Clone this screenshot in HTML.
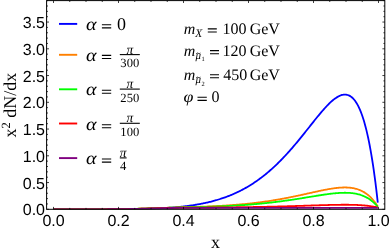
<!DOCTYPE html>
<html><head><meta charset="utf-8"><style>
html,body{margin:0;padding:0;background:#fff;}
svg{display:block;will-change:transform;text-rendering:geometricPrecision}
.tk{font-family:"Liberation Sans",sans-serif;font-size:16px;fill:#000}
.ax{font-family:"Liberation Serif",serif;font-size:18px;fill:#000}
.lg{font-family:"Liberation Serif",serif;font-size:16px;fill:#000}
.fr{font-family:"Liberation Serif",serif;font-size:12.6px;fill:#000}
.pi{font-family:"Liberation Serif",serif;font-size:13.5px;fill:#000}
.sb{font-family:"Liberation Serif",serif;font-size:10.5px;fill:#000}
.sb2{font-family:"Liberation Serif",serif;fill:#000}
</style></head><body>
<svg width="390" height="252" viewBox="0 0 390 252">
<rect width="390" height="252" fill="#fff"/>
<clipPath id="cp"><rect x="46.6" y="0.6" width="338.2" height="208.70000000000002"/></clipPath><g clip-path="url(#cp)">
<path d="M53.66,209.30 L54.47,209.30 L55.29,209.30 L56.10,209.30 L56.91,209.30 L57.72,209.30 L58.54,209.30 L59.35,209.30 L60.16,209.30 L60.97,209.30 L61.79,209.30 L62.60,209.30 L63.41,209.30 L64.22,209.30 L65.04,209.30 L65.85,209.30 L66.66,209.30 L67.47,209.30 L68.28,209.30 L69.10,209.30 L69.91,209.30 L70.72,209.30 L71.53,209.30 L72.35,209.30 L73.16,209.30 L73.97,209.30 L74.78,209.30 L75.60,209.30 L76.41,209.30 L77.22,209.30 L78.03,209.30 L78.84,209.30 L79.66,209.30 L80.47,209.30 L81.28,209.30 L82.09,209.30 L82.91,209.30 L83.72,209.30 L84.53,209.30 L85.34,209.30 L86.16,209.30 L86.97,209.30 L87.78,209.30 L88.59,209.30 L89.41,209.30 L90.22,209.30 L91.03,209.30 L91.84,209.29 L92.65,209.29 L93.47,209.29 L94.28,209.29 L95.09,209.29 L95.90,209.29 L96.72,209.29 L97.53,209.29 L98.34,209.29 L99.15,209.29 L99.97,209.29 L100.78,209.28 L101.59,209.28 L102.40,209.28 L103.22,209.28 L104.03,209.28 L104.84,209.28 L105.65,209.27 L106.46,209.27 L107.28,209.27 L108.09,209.27 L108.90,209.26 L109.71,209.26 L110.53,209.26 L111.34,209.26 L112.15,209.25 L112.96,209.25 L113.78,209.25 L114.59,209.24 L115.40,209.24 L116.21,209.23 L117.02,209.23 L117.84,209.22 L118.65,209.22 L119.46,209.21 L120.27,209.21 L121.09,209.20 L121.90,209.20 L122.71,209.19 L123.52,209.18 L124.34,209.18 L125.15,209.17 L125.96,209.16 L126.77,209.15 L127.59,209.14 L128.40,209.14 L129.21,209.13 L130.02,209.12 L130.83,209.11 L131.65,209.10 L132.46,209.08 L133.27,209.07 L134.08,209.06 L134.90,209.05 L135.71,209.04 L136.52,209.02 L137.33,209.01 L138.15,208.99 L138.96,208.98 L139.77,208.96 L140.58,208.94 L141.39,208.93 L142.21,208.91 L143.02,208.89 L143.83,208.87 L144.64,208.85 L145.46,208.83 L146.27,208.81 L147.08,208.78 L147.89,208.76 L148.71,208.74 L149.52,208.71 L150.33,208.68 L151.14,208.66 L151.96,208.63 L152.77,208.60 L153.58,208.57 L154.39,208.54 L155.20,208.51 L156.02,208.47 L156.83,208.44 L157.64,208.40 L158.45,208.37 L159.27,208.33 L160.08,208.29 L160.89,208.25 L161.70,208.21 L162.52,208.16 L163.33,208.12 L164.14,208.07 L164.95,208.02 L165.77,207.97 L166.58,207.92 L167.39,207.87 L168.20,207.82 L169.01,207.76 L169.83,207.71 L170.64,207.65 L171.45,207.59 L172.26,207.53 L173.08,207.46 L173.89,207.40 L174.70,207.33 L175.51,207.26 L176.33,207.19 L177.14,207.11 L177.95,207.04 L178.76,206.96 L179.57,206.88 L180.39,206.80 L181.20,206.71 L182.01,206.63 L182.82,206.54 L183.64,206.45 L184.45,206.35 L185.26,206.26 L186.07,206.16 L186.89,206.06 L187.70,205.95 L188.51,205.85 L189.32,205.74 L190.14,205.63 L190.95,205.51 L191.76,205.39 L192.57,205.27 L193.38,205.15 L194.20,205.02 L195.01,204.89 L195.82,204.76 L196.63,204.62 L197.45,204.48 L198.26,204.34 L199.07,204.19 L199.88,204.04 L200.70,203.89 L201.51,203.73 L202.32,203.57 L203.13,203.41 L203.94,203.24 L204.76,203.07 L205.57,202.89 L206.38,202.71 L207.19,202.53 L208.01,202.34 L208.82,202.15 L209.63,201.96 L210.44,201.76 L211.26,201.55 L212.07,201.34 L212.88,201.13 L213.69,200.91 L214.51,200.69 L215.32,200.46 L216.13,200.23 L216.94,199.99 L217.75,199.75 L218.57,199.50 L219.38,199.25 L220.19,198.99 L221.00,198.73 L221.82,198.46 L222.63,198.19 L223.44,197.91 L224.25,197.63 L225.07,197.34 L225.88,197.05 L226.69,196.75 L227.50,196.44 L228.31,196.13 L229.13,195.81 L229.94,195.49 L230.75,195.16 L231.56,194.82 L232.38,194.48 L233.19,194.13 L234.00,193.77 L234.81,193.41 L235.63,193.04 L236.44,192.67 L237.25,192.29 L238.06,191.90 L238.88,191.50 L239.69,191.10 L240.50,190.69 L241.31,190.28 L242.12,189.85 L242.94,189.42 L243.75,188.99 L244.56,188.54 L245.37,188.09 L246.19,187.63 L247.00,187.16 L247.81,186.69 L248.62,186.20 L249.44,185.71 L250.25,185.21 L251.06,184.71 L251.87,184.19 L252.69,183.67 L253.50,183.14 L254.31,182.60 L255.12,182.06 L255.93,181.50 L256.75,180.94 L257.56,180.37 L258.37,179.79 L259.18,179.20 L260.00,178.60 L260.81,178.00 L261.62,177.38 L262.43,176.76 L263.25,176.13 L264.06,175.49 L264.87,174.84 L265.68,174.18 L266.49,173.52 L267.31,172.84 L268.12,172.16 L268.93,171.47 L269.74,170.76 L270.56,170.05 L271.37,169.33 L272.18,168.61 L272.99,167.87 L273.81,167.12 L274.62,166.37 L275.43,165.60 L276.24,164.83 L277.06,164.05 L277.87,163.26 L278.68,162.46 L279.49,161.65 L280.30,160.83 L281.12,160.01 L281.93,159.17 L282.74,158.33 L283.55,157.48 L284.37,156.62 L285.18,155.75 L285.99,154.88 L286.80,153.99 L287.62,153.10 L288.43,152.20 L289.24,151.29 L290.05,150.38 L290.86,149.46 L291.68,148.53 L292.49,147.59 L293.30,146.65 L294.11,145.69 L294.93,144.74 L295.74,143.77 L296.55,142.80 L297.36,141.83 L298.18,140.85 L298.99,139.86 L299.80,138.87 L300.61,137.87 L301.43,136.87 L302.24,135.86 L303.05,134.86 L303.86,133.84 L304.67,132.83 L305.49,131.81 L306.30,130.79 L307.11,129.77 L307.92,128.74 L308.74,127.72 L309.55,126.69 L310.36,125.67 L311.17,124.64 L311.99,123.62 L312.80,122.60 L313.61,121.58 L314.42,120.56 L315.24,119.55 L316.05,118.54 L316.86,117.54 L317.67,116.54 L318.48,115.56 L319.30,114.57 L320.11,113.60 L320.92,112.64 L321.73,111.68 L322.55,110.74 L323.36,109.81 L324.17,108.89 L324.98,107.99 L325.80,107.11 L326.61,106.24 L327.42,105.39 L328.23,104.56 L329.04,103.74 L329.86,102.96 L330.67,102.19 L331.48,101.45 L332.29,100.74 L333.11,100.06 L333.92,99.40 L334.73,98.78 L335.54,98.20 L336.36,97.65 L337.17,97.13 L337.98,96.66 L338.79,96.23 L339.61,95.84 L340.42,95.50 L341.23,95.21 L342.04,94.97 L342.85,94.79 L343.67,94.66 L344.48,94.60 L345.29,94.60 L346.10,94.66 L346.92,94.79 L347.73,95.00 L348.54,95.28 L349.35,95.64 L350.17,96.09 L350.98,96.63 L351.79,97.25 L352.60,97.98 L353.41,98.80 L354.23,99.73 L355.04,100.77 L355.85,101.92 L356.66,103.20 L357.48,104.60 L358.29,106.13 L359.10,107.81 L359.91,109.62 L360.73,111.59 L361.54,113.71 L362.35,115.99 L363.16,118.45 L363.98,121.09 L364.79,123.91 L365.60,126.93 L366.41,130.15 L367.22,133.59 L368.04,137.25 L368.85,141.14 L369.66,145.27 L370.47,149.66 L371.29,154.31 L372.10,159.24 L372.91,164.46 L373.72,169.98 L374.54,175.81 L375.35,181.98 L376.16,188.48 L376.97,195.35 L377.79,202.60" fill="none" stroke="#0000ff" stroke-width="1.8" stroke-linejoin="round"/>
<path d="M53.66,209.30 L54.47,209.30 L55.29,209.30 L56.10,209.30 L56.91,209.30 L57.72,209.30 L58.54,209.30 L59.35,209.30 L60.16,209.30 L60.97,209.30 L61.79,209.30 L62.60,209.30 L63.41,209.30 L64.22,209.30 L65.04,209.30 L65.85,209.30 L66.66,209.30 L67.47,209.30 L68.28,209.30 L69.10,209.30 L69.91,209.30 L70.72,209.30 L71.53,209.30 L72.35,209.30 L73.16,209.30 L73.97,209.30 L74.78,209.30 L75.60,209.30 L76.41,209.30 L77.22,209.30 L78.03,209.30 L78.84,209.30 L79.66,209.30 L80.47,209.30 L81.28,209.30 L82.09,209.30 L82.91,209.30 L83.72,209.30 L84.53,209.30 L85.34,209.30 L86.16,209.30 L86.97,209.30 L87.78,209.30 L88.59,209.30 L89.41,209.30 L90.22,209.30 L91.03,209.30 L91.84,209.30 L92.65,209.30 L93.47,209.30 L94.28,209.30 L95.09,209.30 L95.90,209.30 L96.72,209.30 L97.53,209.30 L98.34,209.30 L99.15,209.30 L99.97,209.29 L100.78,209.29 L101.59,209.29 L102.40,209.29 L103.22,209.29 L104.03,209.28 L104.84,209.28 L105.65,209.28 L106.46,209.27 L107.28,209.27 L108.09,209.27 L108.90,209.26 L109.71,209.26 L110.53,209.25 L111.34,209.24 L112.15,209.24 L112.96,209.23 L113.78,209.22 L114.59,209.21 L115.40,209.21 L116.21,209.20 L117.02,209.19 L117.84,209.18 L118.65,209.17 L119.46,209.16 L120.27,209.14 L121.09,209.13 L121.90,209.12 L122.71,209.11 L123.52,209.09 L124.34,209.08 L125.15,209.06 L125.96,209.05 L126.77,209.03 L127.59,209.02 L128.40,209.00 L129.21,208.98 L130.02,208.96 L130.83,208.94 L131.65,208.93 L132.46,208.91 L133.27,208.89 L134.08,208.87 L134.90,208.85 L135.71,208.82 L136.52,208.80 L137.33,208.78 L138.15,208.76 L138.96,208.73 L139.77,208.71 L140.58,208.69 L141.39,208.66 L142.21,208.64 L143.02,208.61 L143.83,208.59 L144.64,208.56 L145.46,208.54 L146.27,208.51 L147.08,208.48 L147.89,208.46 L148.71,208.43 L149.52,208.40 L150.33,208.37 L151.14,208.35 L151.96,208.32 L152.77,208.29 L153.58,208.26 L154.39,208.23 L155.20,208.20 L156.02,208.17 L156.83,208.14 L157.64,208.11 L158.45,208.09 L159.27,208.06 L160.08,208.03 L160.89,208.00 L161.70,207.97 L162.52,207.94 L163.33,207.91 L164.14,207.88 L164.95,207.85 L165.77,207.82 L166.58,207.79 L167.39,207.76 L168.20,207.73 L169.01,207.70 L169.83,207.67 L170.64,207.64 L171.45,207.62 L172.26,207.59 L173.08,207.56 L173.89,207.53 L174.70,207.50 L175.51,207.48 L176.33,207.45 L177.14,207.42 L177.95,207.40 L178.76,207.37 L179.57,207.34 L180.39,207.32 L181.20,207.29 L182.01,207.27 L182.82,207.25 L183.64,207.22 L184.45,207.20 L185.26,207.18 L186.07,207.15 L186.89,207.13 L187.70,207.11 L188.51,207.09 L189.32,207.07 L190.14,207.05 L190.95,207.03 L191.76,207.01 L192.57,206.98 L193.38,206.96 L194.20,206.94 L195.01,206.92 L195.82,206.89 L196.63,206.87 L197.45,206.85 L198.26,206.82 L199.07,206.79 L199.88,206.77 L200.70,206.74 L201.51,206.71 L202.32,206.69 L203.13,206.66 L203.94,206.63 L204.76,206.60 L205.57,206.57 L206.38,206.53 L207.19,206.50 L208.01,206.47 L208.82,206.43 L209.63,206.40 L210.44,206.36 L211.26,206.33 L212.07,206.29 L212.88,206.25 L213.69,206.22 L214.51,206.18 L215.32,206.14 L216.13,206.10 L216.94,206.05 L217.75,206.01 L218.57,205.97 L219.38,205.92 L220.19,205.88 L221.00,205.83 L221.82,205.78 L222.63,205.74 L223.44,205.69 L224.25,205.64 L225.07,205.59 L225.88,205.53 L226.69,205.48 L227.50,205.43 L228.31,205.37 L229.13,205.32 L229.94,205.26 L230.75,205.20 L231.56,205.14 L232.38,205.08 L233.19,205.02 L234.00,204.96 L234.81,204.89 L235.63,204.83 L236.44,204.76 L237.25,204.70 L238.06,204.63 L238.88,204.56 L239.69,204.49 L240.50,204.41 L241.31,204.34 L242.12,204.27 L242.94,204.19 L243.75,204.11 L244.56,204.03 L245.37,203.96 L246.19,203.87 L247.00,203.79 L247.81,203.71 L248.62,203.62 L249.44,203.54 L250.25,203.45 L251.06,203.36 L251.87,203.27 L252.69,203.18 L253.50,203.08 L254.31,202.99 L255.12,202.89 L255.93,202.79 L256.75,202.69 L257.56,202.59 L258.37,202.49 L259.18,202.39 L260.00,202.28 L260.81,202.18 L261.62,202.07 L262.43,201.96 L263.25,201.85 L264.06,201.73 L264.87,201.62 L265.68,201.50 L266.49,201.39 L267.31,201.27 L268.12,201.15 L268.93,201.02 L269.74,200.90 L270.56,200.78 L271.37,200.65 L272.18,200.52 L272.99,200.39 L273.81,200.26 L274.62,200.13 L275.43,199.99 L276.24,199.85 L277.06,199.72 L277.87,199.58 L278.68,199.44 L279.49,199.29 L280.30,199.15 L281.12,199.00 L281.93,198.86 L282.74,198.71 L283.55,198.56 L284.37,198.41 L285.18,198.25 L285.99,198.10 L286.80,197.94 L287.62,197.79 L288.43,197.63 L289.24,197.47 L290.05,197.31 L290.86,197.14 L291.68,196.98 L292.49,196.82 L293.30,196.65 L294.11,196.48 L294.93,196.31 L295.74,196.14 L296.55,195.97 L297.36,195.80 L298.18,195.63 L298.99,195.45 L299.80,195.28 L300.61,195.10 L301.43,194.93 L302.24,194.75 L303.05,194.57 L303.86,194.39 L304.67,194.21 L305.49,194.03 L306.30,193.85 L307.11,193.67 L307.92,193.49 L308.74,193.31 L309.55,193.13 L310.36,192.95 L311.17,192.77 L311.99,192.59 L312.80,192.41 L313.61,192.23 L314.42,192.05 L315.24,191.87 L316.05,191.69 L316.86,191.52 L317.67,191.34 L318.48,191.17 L319.30,190.99 L320.11,190.82 L320.92,190.65 L321.73,190.48 L322.55,190.32 L323.36,190.15 L324.17,189.99 L324.98,189.83 L325.80,189.68 L326.61,189.52 L327.42,189.37 L328.23,189.23 L329.04,189.08 L329.86,188.95 L330.67,188.81 L331.48,188.68 L332.29,188.56 L333.11,188.43 L333.92,188.32 L334.73,188.21 L335.54,188.11 L336.36,188.01 L337.17,187.92 L337.98,187.84 L338.79,187.76 L339.61,187.69 L340.42,187.63 L341.23,187.58 L342.04,187.54 L342.85,187.51 L343.67,187.48 L344.48,187.47 L345.29,187.47 L346.10,187.48 L346.92,187.51 L347.73,187.54 L348.54,187.59 L349.35,187.66 L350.17,187.74 L350.98,187.83 L351.79,187.94 L352.60,188.07 L353.41,188.21 L354.23,188.38 L355.04,188.56 L355.85,188.76 L356.66,188.99 L357.48,189.24 L358.29,189.51 L359.10,189.80 L359.91,190.12 L360.73,190.47 L361.54,190.84 L362.35,191.24 L363.16,191.68 L363.98,192.14 L364.79,192.64 L365.60,193.17 L366.41,193.74 L367.22,194.35 L368.04,194.99 L368.85,195.68 L369.66,196.41 L370.47,197.18 L371.29,198.00 L372.10,198.87 L372.91,199.79 L373.72,200.76 L374.54,201.79 L375.35,202.88 L376.16,204.03 L376.97,205.24 L377.79,206.51" fill="none" stroke="#ff8000" stroke-width="1.8" stroke-linejoin="round"/>
<path d="M53.66,209.30 L54.47,209.30 L55.29,209.30 L56.10,209.30 L56.91,209.30 L57.72,209.30 L58.54,209.30 L59.35,209.30 L60.16,209.30 L60.97,209.30 L61.79,209.30 L62.60,209.30 L63.41,209.30 L64.22,209.30 L65.04,209.30 L65.85,209.30 L66.66,209.30 L67.47,209.30 L68.28,209.30 L69.10,209.30 L69.91,209.30 L70.72,209.30 L71.53,209.30 L72.35,209.30 L73.16,209.30 L73.97,209.30 L74.78,209.30 L75.60,209.30 L76.41,209.30 L77.22,209.30 L78.03,209.30 L78.84,209.30 L79.66,209.30 L80.47,209.30 L81.28,209.30 L82.09,209.30 L82.91,209.30 L83.72,209.30 L84.53,209.30 L85.34,209.30 L86.16,209.30 L86.97,209.30 L87.78,209.30 L88.59,209.30 L89.41,209.30 L90.22,209.30 L91.03,209.30 L91.84,209.30 L92.65,209.30 L93.47,209.30 L94.28,209.30 L95.09,209.30 L95.90,209.30 L96.72,209.30 L97.53,209.30 L98.34,209.30 L99.15,209.30 L99.97,209.29 L100.78,209.29 L101.59,209.29 L102.40,209.29 L103.22,209.29 L104.03,209.28 L104.84,209.28 L105.65,209.28 L106.46,209.28 L107.28,209.27 L108.09,209.27 L108.90,209.26 L109.71,209.26 L110.53,209.25 L111.34,209.25 L112.15,209.24 L112.96,209.23 L113.78,209.22 L114.59,209.22 L115.40,209.21 L116.21,209.20 L117.02,209.19 L117.84,209.18 L118.65,209.17 L119.46,209.16 L120.27,209.15 L121.09,209.14 L121.90,209.12 L122.71,209.11 L123.52,209.10 L124.34,209.08 L125.15,209.07 L125.96,209.05 L126.77,209.04 L127.59,209.02 L128.40,209.01 L129.21,208.99 L130.02,208.97 L130.83,208.95 L131.65,208.94 L132.46,208.92 L133.27,208.90 L134.08,208.88 L134.90,208.86 L135.71,208.84 L136.52,208.82 L137.33,208.79 L138.15,208.77 L138.96,208.75 L139.77,208.73 L140.58,208.70 L141.39,208.68 L142.21,208.66 L143.02,208.63 L143.83,208.61 L144.64,208.58 L145.46,208.56 L146.27,208.53 L147.08,208.51 L147.89,208.48 L148.71,208.45 L149.52,208.43 L150.33,208.40 L151.14,208.37 L151.96,208.35 L152.77,208.32 L153.58,208.29 L154.39,208.27 L155.20,208.24 L156.02,208.21 L156.83,208.18 L157.64,208.16 L158.45,208.13 L159.27,208.10 L160.08,208.07 L160.89,208.04 L161.70,208.02 L162.52,207.99 L163.33,207.96 L164.14,207.93 L164.95,207.91 L165.77,207.88 L166.58,207.85 L167.39,207.83 L168.20,207.80 L169.01,207.77 L169.83,207.75 L170.64,207.72 L171.45,207.69 L172.26,207.67 L173.08,207.64 L173.89,207.62 L174.70,207.60 L175.51,207.57 L176.33,207.55 L177.14,207.52 L177.95,207.50 L178.76,207.48 L179.57,207.46 L180.39,207.43 L181.20,207.41 L182.01,207.39 L182.82,207.37 L183.64,207.35 L184.45,207.33 L185.26,207.32 L186.07,207.30 L186.89,207.28 L187.70,207.26 L188.51,207.25 L189.32,207.23 L190.14,207.22 L190.95,207.20 L191.76,207.19 L192.57,207.17 L193.38,207.15 L194.20,207.14 L195.01,207.12 L195.82,207.10 L196.63,207.09 L197.45,207.07 L198.26,207.05 L199.07,207.03 L199.88,207.01 L200.70,206.99 L201.51,206.97 L202.32,206.95 L203.13,206.93 L203.94,206.91 L204.76,206.88 L205.57,206.86 L206.38,206.84 L207.19,206.81 L208.01,206.79 L208.82,206.76 L209.63,206.74 L210.44,206.71 L211.26,206.69 L212.07,206.66 L212.88,206.63 L213.69,206.60 L214.51,206.57 L215.32,206.54 L216.13,206.51 L216.94,206.48 L217.75,206.45 L218.57,206.42 L219.38,206.39 L220.19,206.35 L221.00,206.32 L221.82,206.29 L222.63,206.25 L223.44,206.21 L224.25,206.18 L225.07,206.14 L225.88,206.10 L226.69,206.06 L227.50,206.02 L228.31,205.98 L229.13,205.94 L229.94,205.90 L230.75,205.85 L231.56,205.81 L232.38,205.77 L233.19,205.72 L234.00,205.67 L234.81,205.63 L235.63,205.58 L236.44,205.53 L237.25,205.48 L238.06,205.43 L238.88,205.38 L239.69,205.33 L240.50,205.27 L241.31,205.22 L242.12,205.16 L242.94,205.11 L243.75,205.05 L244.56,204.99 L245.37,204.93 L246.19,204.87 L247.00,204.81 L247.81,204.75 L248.62,204.69 L249.44,204.63 L250.25,204.56 L251.06,204.49 L251.87,204.43 L252.69,204.36 L253.50,204.29 L254.31,204.22 L255.12,204.15 L255.93,204.08 L256.75,204.00 L257.56,203.93 L258.37,203.85 L259.18,203.78 L260.00,203.70 L260.81,203.62 L261.62,203.54 L262.43,203.46 L263.25,203.38 L264.06,203.30 L264.87,203.21 L265.68,203.13 L266.49,203.04 L267.31,202.95 L268.12,202.86 L268.93,202.77 L269.74,202.68 L270.56,202.59 L271.37,202.49 L272.18,202.40 L272.99,202.30 L273.81,202.21 L274.62,202.11 L275.43,202.01 L276.24,201.91 L277.06,201.81 L277.87,201.70 L278.68,201.60 L279.49,201.49 L280.30,201.39 L281.12,201.28 L281.93,201.17 L282.74,201.06 L283.55,200.95 L284.37,200.84 L285.18,200.73 L285.99,200.61 L286.80,200.50 L287.62,200.38 L288.43,200.26 L289.24,200.15 L290.05,200.03 L290.86,199.91 L291.68,199.79 L292.49,199.66 L293.30,199.54 L294.11,199.42 L294.93,199.29 L295.74,199.17 L296.55,199.04 L297.36,198.91 L298.18,198.79 L298.99,198.66 L299.80,198.53 L300.61,198.40 L301.43,198.27 L302.24,198.14 L303.05,198.01 L303.86,197.88 L304.67,197.74 L305.49,197.61 L306.30,197.48 L307.11,197.35 L307.92,197.21 L308.74,197.08 L309.55,196.95 L310.36,196.81 L311.17,196.68 L311.99,196.55 L312.80,196.41 L313.61,196.28 L314.42,196.15 L315.24,196.02 L316.05,195.88 L316.86,195.75 L317.67,195.62 L318.48,195.50 L319.30,195.37 L320.11,195.24 L320.92,195.12 L321.73,194.99 L322.55,194.87 L323.36,194.75 L324.17,194.63 L324.98,194.51 L325.80,194.40 L326.61,194.28 L327.42,194.17 L328.23,194.06 L329.04,193.96 L329.86,193.86 L330.67,193.76 L331.48,193.66 L332.29,193.57 L333.11,193.48 L333.92,193.39 L334.73,193.31 L335.54,193.24 L336.36,193.17 L337.17,193.10 L337.98,193.04 L338.79,192.98 L339.61,192.93 L340.42,192.89 L341.23,192.85 L342.04,192.82 L342.85,192.79 L343.67,192.78 L344.48,192.77 L345.29,192.77 L346.10,192.78 L346.92,192.79 L347.73,192.82 L348.54,192.86 L349.35,192.90 L350.17,192.96 L350.98,193.03 L351.79,193.11 L352.60,193.21 L353.41,193.32 L354.23,193.44 L355.04,193.57 L355.85,193.72 L356.66,193.89 L357.48,194.07 L358.29,194.27 L359.10,194.49 L359.91,194.72 L360.73,194.98 L361.54,195.26 L362.35,195.55 L363.16,195.87 L363.98,196.22 L364.79,196.58 L365.60,196.98 L366.41,197.40 L367.22,197.84 L368.04,198.32 L368.85,198.83 L369.66,199.36 L370.47,199.93 L371.29,200.54 L372.10,201.18 L372.91,201.86 L373.72,202.58 L374.54,203.34 L375.35,204.14 L376.16,204.99 L376.97,205.88 L377.79,206.82" fill="none" stroke="#00ff00" stroke-width="1.8" stroke-linejoin="round"/>
<path d="M53.66,209.30 L54.47,209.30 L55.29,209.30 L56.10,209.30 L56.91,209.30 L57.72,209.30 L58.54,209.30 L59.35,209.30 L60.16,209.30 L60.97,209.30 L61.79,209.30 L62.60,209.30 L63.41,209.30 L64.22,209.30 L65.04,209.30 L65.85,209.30 L66.66,209.30 L67.47,209.30 L68.28,209.30 L69.10,209.30 L69.91,209.30 L70.72,209.30 L71.53,209.30 L72.35,209.30 L73.16,209.30 L73.97,209.30 L74.78,209.30 L75.60,209.30 L76.41,209.30 L77.22,209.30 L78.03,209.30 L78.84,209.30 L79.66,209.30 L80.47,209.30 L81.28,209.30 L82.09,209.30 L82.91,209.30 L83.72,209.30 L84.53,209.30 L85.34,209.30 L86.16,209.30 L86.97,209.30 L87.78,209.30 L88.59,209.30 L89.41,209.30 L90.22,209.30 L91.03,209.30 L91.84,209.30 L92.65,209.30 L93.47,209.30 L94.28,209.30 L95.09,209.30 L95.90,209.30 L96.72,209.30 L97.53,209.30 L98.34,209.30 L99.15,209.30 L99.97,209.30 L100.78,209.29 L101.59,209.29 L102.40,209.29 L103.22,209.29 L104.03,209.29 L104.84,209.28 L105.65,209.28 L106.46,209.28 L107.28,209.27 L108.09,209.27 L108.90,209.27 L109.71,209.26 L110.53,209.26 L111.34,209.25 L112.15,209.24 L112.96,209.24 L113.78,209.23 L114.59,209.22 L115.40,209.21 L116.21,209.21 L117.02,209.20 L117.84,209.19 L118.65,209.18 L119.46,209.17 L120.27,209.16 L121.09,209.15 L121.90,209.13 L122.71,209.12 L123.52,209.11 L124.34,209.10 L125.15,209.08 L125.96,209.07 L126.77,209.05 L127.59,209.04 L128.40,209.02 L129.21,209.01 L130.02,208.99 L130.83,208.97 L131.65,208.96 L132.46,208.94 L133.27,208.92 L134.08,208.90 L134.90,208.88 L135.71,208.86 L136.52,208.84 L137.33,208.82 L138.15,208.80 L138.96,208.78 L139.77,208.76 L140.58,208.74 L141.39,208.72 L142.21,208.70 L143.02,208.68 L143.83,208.65 L144.64,208.63 L145.46,208.61 L146.27,208.58 L147.08,208.56 L147.89,208.54 L148.71,208.51 L149.52,208.49 L150.33,208.47 L151.14,208.44 L151.96,208.42 L152.77,208.39 L153.58,208.37 L154.39,208.35 L155.20,208.32 L156.02,208.30 L156.83,208.27 L157.64,208.25 L158.45,208.23 L159.27,208.20 L160.08,208.18 L160.89,208.15 L161.70,208.13 L162.52,208.11 L163.33,208.09 L164.14,208.06 L164.95,208.04 L165.77,208.02 L166.58,208.00 L167.39,207.98 L168.20,207.95 L169.01,207.93 L169.83,207.91 L170.64,207.89 L171.45,207.87 L172.26,207.85 L173.08,207.84 L173.89,207.82 L174.70,207.80 L175.51,207.78 L176.33,207.77 L177.14,207.75 L177.95,207.74 L178.76,207.72 L179.57,207.71 L180.39,207.70 L181.20,207.68 L182.01,207.67 L182.82,207.66 L183.64,207.65 L184.45,207.64 L185.26,207.63 L186.07,207.63 L186.89,207.62 L187.70,207.61 L188.51,207.61 L189.32,207.60 L190.14,207.60 L190.95,207.60 L191.76,207.59 L192.57,207.59 L193.38,207.59 L194.20,207.59 L195.01,207.58 L195.82,207.58 L196.63,207.58 L197.45,207.57 L198.26,207.57 L199.07,207.56 L199.88,207.56 L200.70,207.56 L201.51,207.55 L202.32,207.55 L203.13,207.54 L203.94,207.54 L204.76,207.54 L205.57,207.53 L206.38,207.53 L207.19,207.52 L208.01,207.52 L208.82,207.51 L209.63,207.51 L210.44,207.50 L211.26,207.50 L212.07,207.49 L212.88,207.49 L213.69,207.48 L214.51,207.47 L215.32,207.47 L216.13,207.46 L216.94,207.46 L217.75,207.45 L218.57,207.44 L219.38,207.44 L220.19,207.43 L221.00,207.42 L221.82,207.42 L222.63,207.41 L223.44,207.40 L224.25,207.40 L225.07,207.39 L225.88,207.38 L226.69,207.37 L227.50,207.37 L228.31,207.36 L229.13,207.35 L229.94,207.34 L230.75,207.33 L231.56,207.32 L232.38,207.31 L233.19,207.31 L234.00,207.30 L234.81,207.29 L235.63,207.28 L236.44,207.27 L237.25,207.26 L238.06,207.25 L238.88,207.24 L239.69,207.23 L240.50,207.22 L241.31,207.21 L242.12,207.20 L242.94,207.19 L243.75,207.17 L244.56,207.16 L245.37,207.15 L246.19,207.14 L247.00,207.13 L247.81,207.11 L248.62,207.10 L249.44,207.09 L250.25,207.08 L251.06,207.06 L251.87,207.05 L252.69,207.04 L253.50,207.02 L254.31,207.01 L255.12,207.00 L255.93,206.98 L256.75,206.97 L257.56,206.95 L258.37,206.94 L259.18,206.92 L260.00,206.91 L260.81,206.89 L261.62,206.88 L262.43,206.86 L263.25,206.84 L264.06,206.83 L264.87,206.81 L265.68,206.79 L266.49,206.78 L267.31,206.76 L268.12,206.74 L268.93,206.72 L269.74,206.71 L270.56,206.69 L271.37,206.67 L272.18,206.65 L272.99,206.63 L273.81,206.61 L274.62,206.59 L275.43,206.57 L276.24,206.55 L277.06,206.53 L277.87,206.51 L278.68,206.49 L279.49,206.47 L280.30,206.45 L281.12,206.43 L281.93,206.41 L282.74,206.39 L283.55,206.37 L284.37,206.34 L285.18,206.32 L285.99,206.30 L286.80,206.28 L287.62,206.25 L288.43,206.23 L289.24,206.21 L290.05,206.18 L290.86,206.16 L291.68,206.14 L292.49,206.11 L293.30,206.09 L294.11,206.06 L294.93,206.04 L295.74,206.01 L296.55,205.99 L297.36,205.96 L298.18,205.94 L298.99,205.91 L299.80,205.89 L300.61,205.86 L301.43,205.84 L302.24,205.81 L303.05,205.79 L303.86,205.76 L304.67,205.73 L305.49,205.71 L306.30,205.68 L307.11,205.65 L307.92,205.63 L308.74,205.60 L309.55,205.58 L310.36,205.55 L311.17,205.52 L311.99,205.50 L312.80,205.47 L313.61,205.44 L314.42,205.42 L315.24,205.39 L316.05,205.37 L316.86,205.34 L317.67,205.32 L318.48,205.29 L319.30,205.26 L320.11,205.24 L320.92,205.22 L321.73,205.19 L322.55,205.17 L323.36,205.14 L324.17,205.12 L324.98,205.10 L325.80,205.07 L326.61,205.05 L327.42,205.03 L328.23,205.01 L329.04,204.99 L329.86,204.97 L330.67,204.95 L331.48,204.93 L332.29,204.91 L333.11,204.89 L333.92,204.88 L334.73,204.86 L335.54,204.84 L336.36,204.83 L337.17,204.82 L337.98,204.81 L338.79,204.79 L339.61,204.78 L340.42,204.78 L341.23,204.77 L342.04,204.76 L342.85,204.76 L343.67,204.75 L344.48,204.75 L345.29,204.75 L346.10,204.75 L346.92,204.76 L347.73,204.76 L348.54,204.77 L349.35,204.78 L350.17,204.79 L350.98,204.80 L351.79,204.82 L352.60,204.84 L353.41,204.86 L354.23,204.88 L355.04,204.91 L355.85,204.94 L356.66,204.97 L357.48,205.01 L358.29,205.05 L359.10,205.09 L359.91,205.14 L360.73,205.19 L361.54,205.24 L362.35,205.30 L363.16,205.36 L363.98,205.43 L364.79,205.50 L365.60,205.58 L366.41,205.66 L367.22,205.75 L368.04,205.85 L368.85,205.95 L369.66,206.05 L370.47,206.17 L371.29,206.28 L372.10,206.41 L372.91,206.54 L373.72,206.69 L374.54,206.84 L375.35,206.99 L376.16,207.16 L376.97,207.34 L377.79,207.52" fill="none" stroke="#ff0000" stroke-width="1.8" stroke-linejoin="round"/>
<path d="M53.66,209.30 L54.47,209.30 L55.29,209.30 L56.10,209.30 L56.91,209.30 L57.72,209.30 L58.54,209.30 L59.35,209.30 L60.16,209.30 L60.97,209.30 L61.79,209.30 L62.60,209.30 L63.41,209.30 L64.22,209.30 L65.04,209.30 L65.85,209.30 L66.66,209.30 L67.47,209.30 L68.28,209.30 L69.10,209.30 L69.91,209.30 L70.72,209.30 L71.53,209.30 L72.35,209.30 L73.16,209.30 L73.97,209.30 L74.78,209.30 L75.60,209.30 L76.41,209.30 L77.22,209.30 L78.03,209.30 L78.84,209.30 L79.66,209.30 L80.47,209.30 L81.28,209.30 L82.09,209.30 L82.91,209.30 L83.72,209.30 L84.53,209.30 L85.34,209.30 L86.16,209.30 L86.97,209.30 L87.78,209.30 L88.59,209.30 L89.41,209.30 L90.22,209.30 L91.03,209.30 L91.84,209.30 L92.65,209.30 L93.47,209.30 L94.28,209.30 L95.09,209.30 L95.90,209.30 L96.72,209.30 L97.53,209.30 L98.34,209.30 L99.15,209.30 L99.97,209.30 L100.78,209.30 L101.59,209.29 L102.40,209.29 L103.22,209.29 L104.03,209.29 L104.84,209.29 L105.65,209.28 L106.46,209.28 L107.28,209.28 L108.09,209.27 L108.90,209.27 L109.71,209.26 L110.53,209.26 L111.34,209.25 L112.15,209.25 L112.96,209.24 L113.78,209.24 L114.59,209.23 L115.40,209.22 L116.21,209.21 L117.02,209.21 L117.84,209.20 L118.65,209.19 L119.46,209.18 L120.27,209.17 L121.09,209.16 L121.90,209.15 L122.71,209.14 L123.52,209.12 L124.34,209.11 L125.15,209.10 L125.96,209.09 L126.77,209.07 L127.59,209.06 L128.40,209.05 L129.21,209.03 L130.02,209.02 L130.83,209.00 L131.65,208.98 L132.46,208.97 L133.27,208.95 L134.08,208.93 L134.90,208.92 L135.71,208.90 L136.52,208.88 L137.33,208.86 L138.15,208.84 L138.96,208.83 L139.77,208.81 L140.58,208.79 L141.39,208.77 L142.21,208.75 L143.02,208.73 L143.83,208.71 L144.64,208.69 L145.46,208.66 L146.27,208.64 L147.08,208.62 L147.89,208.60 L148.71,208.58 L149.52,208.56 L150.33,208.54 L151.14,208.51 L151.96,208.49 L152.77,208.47 L153.58,208.45 L154.39,208.43 L155.20,208.41 L156.02,208.38 L156.83,208.36 L157.64,208.34 L158.45,208.32 L159.27,208.30 L160.08,208.28 L160.89,208.26 L161.70,208.24 L162.52,208.22 L163.33,208.19 L164.14,208.17 L164.95,208.16 L165.77,208.14 L166.58,208.12 L167.39,208.10 L168.20,208.08 L169.01,208.06 L169.83,208.04 L170.64,208.03 L171.45,208.01 L172.26,207.99 L173.08,207.98 L173.89,207.96 L174.70,207.95 L175.51,207.93 L176.33,207.92 L177.14,207.91 L177.95,207.90 L178.76,207.88 L179.57,207.87 L180.39,207.86 L181.20,207.85 L182.01,207.84 L182.82,207.84 L183.64,207.83 L184.45,207.82 L185.26,207.82 L186.07,207.81 L186.89,207.81 L187.70,207.81 L188.51,207.80 L189.32,207.80 L190.14,207.80 L190.95,207.80 L191.76,207.80 L192.57,207.80 L193.38,207.80 L194.20,207.80 L195.01,207.80 L195.82,207.80 L196.63,207.80 L197.45,207.80 L198.26,207.80 L199.07,207.80 L199.88,207.80 L200.70,207.80 L201.51,207.80 L202.32,207.80 L203.13,207.80 L203.94,207.80 L204.76,207.80 L205.57,207.80 L206.38,207.80 L207.19,207.80 L208.01,207.80 L208.82,207.80 L209.63,207.80 L210.44,207.80 L211.26,207.80 L212.07,207.80 L212.88,207.80 L213.69,207.80 L214.51,207.80 L215.32,207.80 L216.13,207.80 L216.94,207.80 L217.75,207.80 L218.57,207.80 L219.38,207.80 L220.19,207.80 L221.00,207.80 L221.82,207.80 L222.63,207.80 L223.44,207.80 L224.25,207.80 L225.07,207.80 L225.88,207.80 L226.69,207.80 L227.50,207.80 L228.31,207.80 L229.13,207.80 L229.94,207.80 L230.75,207.80 L231.56,207.80 L232.38,207.80 L233.19,207.80 L234.00,207.80 L234.81,207.80 L235.63,207.80 L236.44,207.80 L237.25,207.80 L238.06,207.80 L238.88,207.80 L239.69,207.80 L240.50,207.80 L241.31,207.80 L242.12,207.80 L242.94,207.80 L243.75,207.80 L244.56,207.80 L245.37,207.80 L246.19,207.80 L247.00,207.80 L247.81,207.80 L248.62,207.80 L249.44,207.80 L250.25,207.80 L251.06,207.80 L251.87,207.80 L252.69,207.80 L253.50,207.80 L254.31,207.80 L255.12,207.80 L255.93,207.80 L256.75,207.80 L257.56,207.80 L258.37,207.80 L259.18,207.80 L260.00,207.80 L260.81,207.80 L261.62,207.80 L262.43,207.80 L263.25,207.80 L264.06,207.80 L264.87,207.80 L265.68,207.80 L266.49,207.80 L267.31,207.80 L268.12,207.80 L268.93,207.80 L269.74,207.80 L270.56,207.80 L271.37,207.80 L272.18,207.80 L272.99,207.80 L273.81,207.80 L274.62,207.80 L275.43,207.80 L276.24,207.80 L277.06,207.80 L277.87,207.80 L278.68,207.80 L279.49,207.80 L280.30,207.80 L281.12,207.80 L281.93,207.80 L282.74,207.80 L283.55,207.80 L284.37,207.80 L285.18,207.80 L285.99,207.80 L286.80,207.80 L287.62,207.80 L288.43,207.80 L289.24,207.80 L290.05,207.80 L290.86,207.80 L291.68,207.80 L292.49,207.80 L293.30,207.80 L294.11,207.80 L294.93,207.80 L295.74,207.80 L296.55,207.80 L297.36,207.80 L298.18,207.80 L298.99,207.80 L299.80,207.80 L300.61,207.80 L301.43,207.80 L302.24,207.80 L303.05,207.80 L303.86,207.80 L304.67,207.80 L305.49,207.80 L306.30,207.80 L307.11,207.80 L307.92,207.80 L308.74,207.80 L309.55,207.80 L310.36,207.80 L311.17,207.80 L311.99,207.80 L312.80,207.80 L313.61,207.80 L314.42,207.80 L315.24,207.80 L316.05,207.80 L316.86,207.80 L317.67,207.80 L318.48,207.80 L319.30,207.80 L320.11,207.80 L320.92,207.80 L321.73,207.80 L322.55,207.80 L323.36,207.80 L324.17,207.80 L324.98,207.80 L325.80,207.80 L326.61,207.80 L327.42,207.80 L328.23,207.80 L329.04,207.80 L329.86,207.80 L330.67,207.80 L331.48,207.80 L332.29,207.80 L333.11,207.80 L333.92,207.80 L334.73,207.80 L335.54,207.80 L336.36,207.80 L337.17,207.80 L337.98,207.80 L338.79,207.80 L339.61,207.80 L340.42,207.80 L341.23,207.80 L342.04,207.80 L342.85,207.80 L343.67,207.80 L344.48,207.80 L345.29,207.80 L346.10,207.80 L346.92,207.80 L347.73,207.80 L348.54,207.80 L349.35,207.80 L350.17,207.80 L350.98,207.80 L351.79,207.80 L352.60,207.80 L353.41,207.80 L354.23,207.80 L355.04,207.80 L355.85,207.80 L356.66,207.80 L357.48,207.80 L358.29,207.80 L359.10,207.80 L359.91,207.80 L360.73,207.80 L361.54,207.80 L362.35,207.80 L363.16,207.80 L363.98,207.80 L364.79,207.80 L365.60,207.80 L366.41,207.80 L367.22,207.80 L368.04,207.80 L368.85,207.80 L369.66,207.80 L370.47,207.80 L371.29,207.80 L372.10,207.80 L372.91,207.80 L373.72,207.80 L374.54,207.80 L375.35,207.80 L376.16,207.80 L376.97,207.80 L377.79,207.80" fill="none" stroke="#800080" stroke-width="1.8" stroke-linejoin="round"/>
</g>
<rect x="46.6" y="0.6" width="338.2" height="208.70000000000002" fill="none" stroke="#000" stroke-width="1"/>
<path d="M46.6,209.30h2.4M384.8,209.30h-2.4M46.6,203.95h1.4M384.8,203.95h-1.4M46.6,198.60h1.4M384.8,198.60h-1.4M46.6,193.25h1.4M384.8,193.25h-1.4M46.6,187.90h1.4M384.8,187.90h-1.4M46.6,182.55h2.4M384.8,182.55h-2.4M46.6,177.20h1.4M384.8,177.20h-1.4M46.6,171.85h1.4M384.8,171.85h-1.4M46.6,166.50h1.4M384.8,166.50h-1.4M46.6,161.15h1.4M384.8,161.15h-1.4M46.6,155.80h2.4M384.8,155.80h-2.4M46.6,150.45h1.4M384.8,150.45h-1.4M46.6,145.10h1.4M384.8,145.10h-1.4M46.6,139.75h1.4M384.8,139.75h-1.4M46.6,134.40h1.4M384.8,134.40h-1.4M46.6,129.05h2.4M384.8,129.05h-2.4M46.6,123.70h1.4M384.8,123.70h-1.4M46.6,118.35h1.4M384.8,118.35h-1.4M46.6,113.00h1.4M384.8,113.00h-1.4M46.6,107.65h1.4M384.8,107.65h-1.4M46.6,102.30h2.4M384.8,102.30h-2.4M46.6,96.95h1.4M384.8,96.95h-1.4M46.6,91.60h1.4M384.8,91.60h-1.4M46.6,86.25h1.4M384.8,86.25h-1.4M46.6,80.90h1.4M384.8,80.90h-1.4M46.6,75.55h2.4M384.8,75.55h-2.4M46.6,70.20h1.4M384.8,70.20h-1.4M46.6,64.85h1.4M384.8,64.85h-1.4M46.6,59.50h1.4M384.8,59.50h-1.4M46.6,54.15h1.4M384.8,54.15h-1.4M46.6,48.80h2.4M384.8,48.80h-2.4M46.6,43.45h1.4M384.8,43.45h-1.4M46.6,38.10h1.4M384.8,38.10h-1.4M46.6,32.75h1.4M384.8,32.75h-1.4M46.6,27.40h1.4M384.8,27.40h-1.4M46.6,22.05h2.4M384.8,22.05h-2.4M46.6,16.70h1.4M384.8,16.70h-1.4M46.6,11.35h1.4M384.8,11.35h-1.4M46.6,6.00h1.4M384.8,6.00h-1.4M46.6,0.65h1.4M384.8,0.65h-1.4M53.50,209.3v-2.4M53.50,0.6v2.4M69.75,209.3v-1.4M69.75,0.6v1.4M86.00,209.3v-1.4M86.00,0.6v1.4M102.25,209.3v-1.4M102.25,0.6v1.4M118.50,209.3v-2.4M118.50,0.6v2.4M134.75,209.3v-1.4M134.75,0.6v1.4M151.00,209.3v-1.4M151.00,0.6v1.4M167.25,209.3v-1.4M167.25,0.6v1.4M183.50,209.3v-2.4M183.50,0.6v2.4M199.75,209.3v-1.4M199.75,0.6v1.4M216.00,209.3v-1.4M216.00,0.6v1.4M232.25,209.3v-1.4M232.25,0.6v1.4M248.50,209.3v-2.4M248.50,0.6v2.4M264.75,209.3v-1.4M264.75,0.6v1.4M281.00,209.3v-1.4M281.00,0.6v1.4M297.25,209.3v-1.4M297.25,0.6v1.4M313.50,209.3v-2.4M313.50,0.6v2.4M329.75,209.3v-1.4M329.75,0.6v1.4M346.00,209.3v-1.4M346.00,0.6v1.4M362.25,209.3v-1.4M362.25,0.6v1.4M378.50,209.3v-2.4M378.50,0.6v2.4" stroke="#000" stroke-width="0.75" fill="none"/>
<text x="45" y="215.30" text-anchor="end" class="tk">0.0</text>
<text x="45" y="188.55" text-anchor="end" class="tk">0.5</text>
<text x="45" y="161.80" text-anchor="end" class="tk">1.0</text>
<text x="45" y="135.05" text-anchor="end" class="tk">1.5</text>
<text x="45" y="108.30" text-anchor="end" class="tk">2.0</text>
<text x="45" y="81.55" text-anchor="end" class="tk">2.5</text>
<text x="45" y="54.80" text-anchor="end" class="tk">3.0</text>
<text x="45" y="28.05" text-anchor="end" class="tk">3.5</text>
<text x="53.50" y="225.8" text-anchor="middle" class="tk">0.0</text>
<text x="118.50" y="225.8" text-anchor="middle" class="tk">0.2</text>
<text x="183.50" y="225.8" text-anchor="middle" class="tk">0.4</text>
<text x="248.50" y="225.8" text-anchor="middle" class="tk">0.6</text>
<text x="313.50" y="225.8" text-anchor="middle" class="tk">0.8</text>
<text x="378.50" y="225.8" text-anchor="middle" class="tk">1.0</text>
<text x="215.5" y="247.6" text-anchor="middle" class="ax">x</text>
<text transform="translate(16.4,105) rotate(-90)" text-anchor="middle" class="ax">x<tspan dy="-6" font-size="12.5">2</tspan><tspan dy="6"> dN/dx</tspan></text>
<path d="M59,23.9H77.2" stroke="#0000ff" stroke-width="1.9"/>
<text transform="translate(86.0,29.9) scale(1.25,1.12)" class="lg" font-style="italic">α</text>
<path d="M101.9,24.80h9.3M101.9,27.90h9.3" stroke="#000" stroke-width="1.1" fill="none"/>
<text x="117.1" y="29.7" class="lg" style="font-size:18px">0</text>
<path d="M59,54.8H77.2" stroke="#ff8000" stroke-width="1.9"/>
<text transform="translate(86.0,60.5) scale(1.25,1.12)" class="lg" font-style="italic">α</text>
<path d="M101.9,55.40h9.3M101.9,58.50h9.3" stroke="#000" stroke-width="1.1" fill="none"/>
<path d="M119.8,54.599999999999994h20.0" stroke="#000" stroke-width="1.1"/>
<text x="129.8" y="53.7" text-anchor="middle" class="pi" font-style="italic">π</text>
<text x="129.8" y="67.1" text-anchor="middle" class="fr">300</text>
<path d="M59,89.3H77.2" stroke="#00ff00" stroke-width="1.9"/>
<text transform="translate(86.0,95.3) scale(1.25,1.12)" class="lg" font-style="italic">α</text>
<path d="M101.9,90.20h9.3M101.9,93.30h9.3" stroke="#000" stroke-width="1.1" fill="none"/>
<path d="M119.8,89.1h20.0" stroke="#000" stroke-width="1.1"/>
<text x="129.8" y="88.2" text-anchor="middle" class="pi" font-style="italic">π</text>
<text x="129.8" y="101.6" text-anchor="middle" class="fr">250</text>
<path d="M59,123.5H77.2" stroke="#ff0000" stroke-width="1.9"/>
<text transform="translate(86.0,129.8) scale(1.25,1.12)" class="lg" font-style="italic">α</text>
<path d="M101.9,124.70h9.3M101.9,127.80h9.3" stroke="#000" stroke-width="1.1" fill="none"/>
<path d="M119.8,123.3h20.0" stroke="#000" stroke-width="1.1"/>
<text x="129.8" y="122.4" text-anchor="middle" class="pi" font-style="italic">π</text>
<text x="129.8" y="135.8" text-anchor="middle" class="fr">100</text>
<path d="M59,158.1H77.2" stroke="#800080" stroke-width="1.9"/>
<text transform="translate(86.0,164.1) scale(1.25,1.12)" class="lg" font-style="italic">α</text>
<path d="M101.9,159.00h9.3M101.9,162.10h9.3" stroke="#000" stroke-width="1.1" fill="none"/>
<path d="M119.8,157.9h6.8" stroke="#000" stroke-width="1.1"/>
<text x="123.2" y="157.0" text-anchor="middle" class="pi" font-style="italic">π</text>
<text x="123.2" y="170.4" text-anchor="middle" class="fr">4</text>
<text x="183.7" y="33.8" class="lg" font-style="italic">m</text><text x="195.2" y="37.0" class="sb" font-style="italic" style="font-size:11.3px">X</text><path d="M207.8,28.90h9.0M207.8,32.00h9.0" stroke="#000" stroke-width="1.1" fill="none"/><text x="222.4" y="33.8" class="lg">100</text><text x="249.7" y="33.8" class="lg">GeV</text>
<text x="183.7" y="55.5" class="lg" font-style="italic">m</text><text x="195.5" y="59.2" class="sb" font-style="italic" style="font-size:11px">μ</text><path d="M196.3,53.6q1,-0.9 2.05,-0.2t2.05,-0.3" stroke="#000" stroke-width="0.9" fill="none"/><text x="201.4" y="61.4" font-size="6.4" class="sb2">1</text><path d="M210.0,50.60h9.0M210.0,53.70h9.0" stroke="#000" stroke-width="1.1" fill="none"/><text x="222.4" y="55.5" class="lg">120</text><text x="249.7" y="55.5" class="lg">GeV</text>
<text x="183.7" y="79.6" class="lg" font-style="italic">m</text><text x="195.5" y="83.3" class="sb" font-style="italic" style="font-size:11px">μ</text><path d="M196.3,77.7q1,-0.9 2.05,-0.2t2.05,-0.3" stroke="#000" stroke-width="0.9" fill="none"/><text x="201.4" y="85.5" font-size="6.4" class="sb2">2</text><path d="M210.0,74.70h9.0M210.0,77.80h9.0" stroke="#000" stroke-width="1.1" fill="none"/><text x="223.3" y="79.6" class="lg">450</text><text x="249.7" y="79.6" class="lg">GeV</text>
<text transform="translate(183.5,102.2) scale(1.12,1.0)" class="lg" font-style="italic">φ</text><path d="M197.5,97.30h9.3M197.5,100.40h9.3" stroke="#000" stroke-width="1.1" fill="none"/><text x="211.4" y="102.2" class="lg">0</text>
</svg>
</body></html>
